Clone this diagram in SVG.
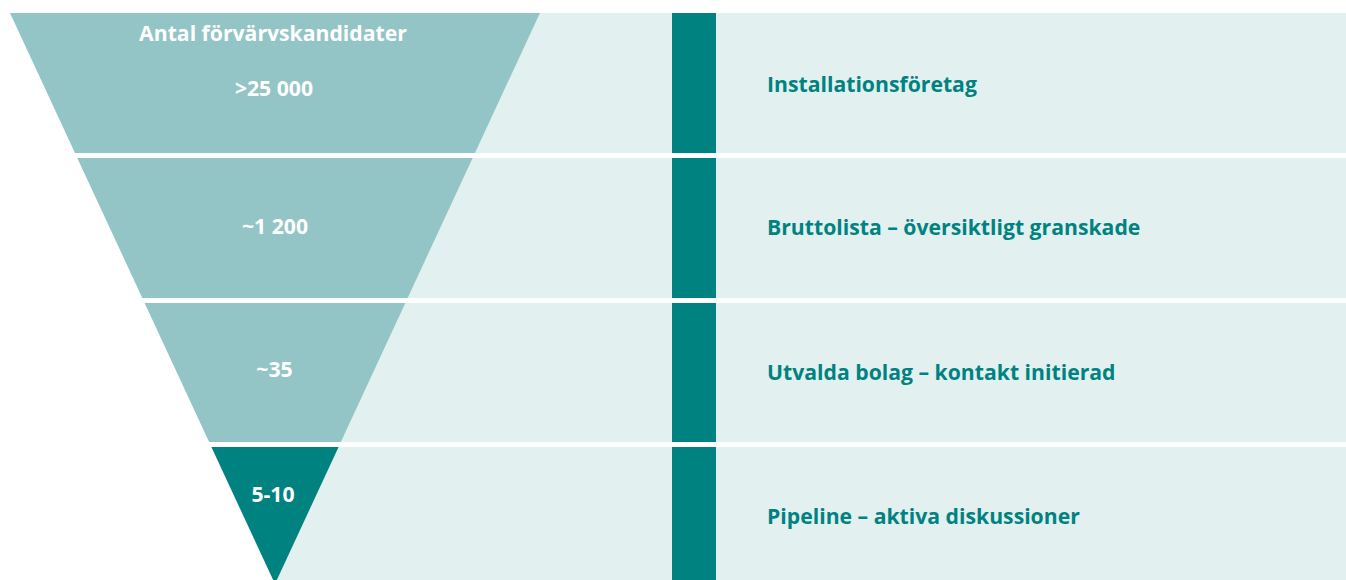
<svg xmlns="http://www.w3.org/2000/svg" width="1346" height="580" viewBox="0 0 1346 580">
  <style>
    .band { fill: #e2f0f0; }
    .funnel { fill: #93c5c6; }
    .funnel-dark { fill: #008281; }
    .bar { fill: #008281; }
    .count { font-family: "Open Sans", "Liberation Sans", sans-serif; font-weight: 700; font-size: 21.2px; fill: #ffffff; text-anchor: middle; }
    .label { font-family: "Open Sans", "Liberation Sans", sans-serif; font-weight: 700; font-size: 21.2px; fill: #008281; }
  </style>
  <rect width="1346" height="580" fill="#ffffff"/>

  <!-- Stage 1: all installation companies -->
  <g id="stage-installationsforetag">
    <polygon class="band" points="540,13 1346,13 1346,153 475,153"/>
    <polygon class="funnel" points="10,13 540,13 475,153 75,153"/>
    <rect class="bar" x="672" y="13" width="44" height="140"/>
    <text class="count" x="273" y="41">Antal förvärvskandidater</text>
    <text class="count" x="274" y="96">&gt;25 000</text>
    <text class="label" x="767" y="92">Installationsföretag</text>
  </g>

  <!-- Stage 2: gross list -->
  <g id="stage-bruttolista">
    <polygon class="band" points="472.7,158 1346,158 1346,298 407.7,298"/>
    <polygon class="funnel" points="77.3,158 472.7,158 407.7,298 142.3,298"/>
    <rect class="bar" x="672" y="158" width="44" height="140"/>
    <text class="count" x="275" y="234">~1 200</text>
    <text class="label" x="767" y="235">Bruttolista – översiktligt granskade</text>
  </g>

  <!-- Stage 3: selected companies -->
  <g id="stage-utvalda">
    <polygon class="band" points="405.4,303 1346,303 1346,442 340.9,442"/>
    <polygon class="funnel" points="144.6,303 405.4,303 340.9,442 209.1,442"/>
    <rect class="bar" x="672" y="303" width="44" height="139"/>
    <text class="count" x="274.5" y="377">~35</text>
    <text class="label" x="767" y="380">Utvalda bolag – kontakt initierad</text>
  </g>

  <!-- Stage 4: active pipeline -->
  <g id="stage-pipeline">
    <polygon class="band" points="338.6,447 1346,447 1346,580 276.9,580"/>
    <polygon class="funnel-dark" points="211.4,447 338.6,447 275,584"/>
    <rect class="bar" x="672" y="447" width="44" height="133"/>
    <text class="count" x="273" y="502">5-10</text>
    <text class="label" x="767" y="524">Pipeline – aktiva diskussioner</text>
  </g>

  <!-- no connectors in this funnel chart -->
  <g id="connectors"/>
</svg>
